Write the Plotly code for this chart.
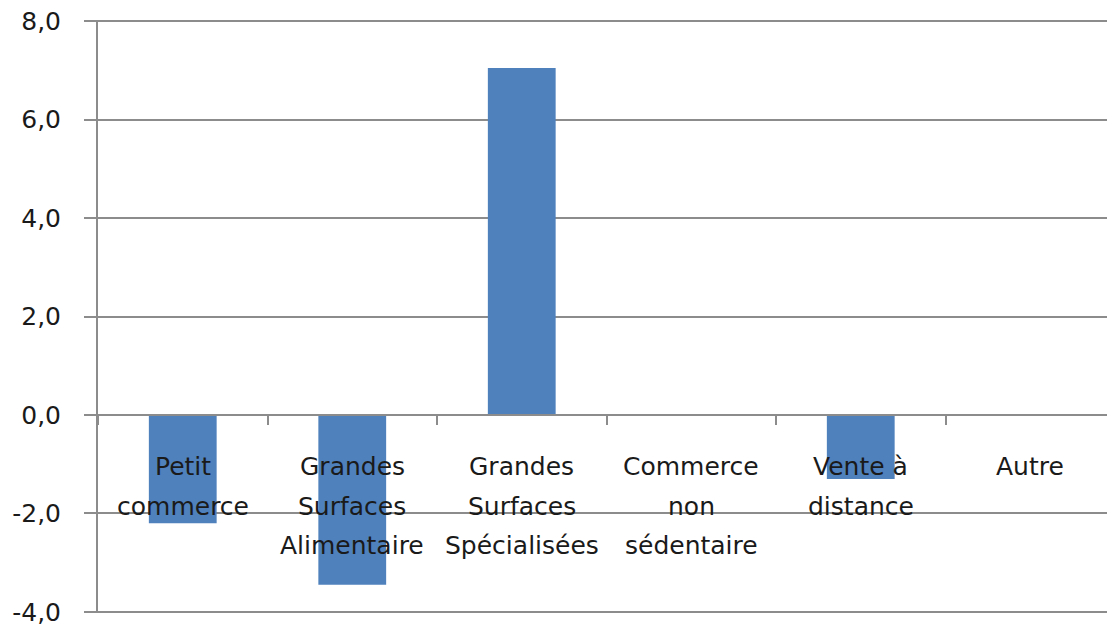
import plotly.graph_objects as go

categories = ["Petit commerce", "Grandes Surfaces Alimentaire", "Grandes Surfaces Spécialisées",
              "Commerce non sédentaire", "Vente à distance", "Autre"]
label_lines = [["Petit", "commerce"], ["Grandes", "Surfaces", "Alimentaire"],
               ["Grandes", "Surfaces", "Spécialisées"], ["Commerce", "non", "sédentaire"],
               ["Vente à", "distance"], ["Autre"]]
values = [-2.2, -3.45, 7.05, 0.0, -1.3, 0.0]
y_ticks = [-4, -2, 0, 2, 4, 6, 8]
y_tick_text = ["-4,0", "-2,0", "0,0", "2,0", "4,0", "6,0", "8,0"]

# tiny padding so plotly keeps the edge gridlines at -4 and 8
y_lo, y_hi = -4.025, 8.025
FONT = "DejaVu Sans"
GRID = "#8c8c8c"

fig = go.Figure()
fig.add_trace(go.Bar(x=categories, y=values, marker=dict(color="#4F81BD", line=dict(width=0)),
                     width=0.4, hoverinfo="skip"))

annotations = []
for cat, lines in zip(categories, label_lines):
    for i, line in enumerate(lines):
        annotations.append(dict(x=cat, xref="x", y=0, yref="y", text=line, showarrow=False,
                                yanchor="middle", xanchor="center", yshift=-52 - 39.5 * i,
                                font=dict(family=FONT, size=25, color="#1a1a1a")))

# page body has an 8px default margin; the figure is sized to compensate
fig.update_layout(
    width=1107, height=621,
    margin=dict(l=90, r=0, t=12, b=16),
    paper_bgcolor="white", plot_bgcolor="white",
    showlegend=False,
    bargap=0.6,
    annotations=annotations,
    xaxis=dict(
        type="category", anchor="free", position=(0 - y_lo) / (y_hi - y_lo),
        showline=True, linecolor=GRID, linewidth=1.5, automargin=False,
        ticks="outside", tickson="boundaries", ticklen=9, tickcolor=GRID, tickwidth=1.5,
        showticklabels=False, showgrid=False, zeroline=False,
    ),
    yaxis=dict(
        range=[y_lo, y_hi], tickvals=y_ticks, ticktext=y_tick_text,
        showline=True, linecolor=GRID, linewidth=2, automargin=False,
        ticks="outside", ticklen=12, tickcolor=GRID, tickwidth=1.5,
        ticklabelstandoff=18, ticklabeloverflow="allow",
        showgrid=True, gridcolor=GRID, gridwidth=1.5, zeroline=False,
        tickfont=dict(family=FONT, size=25, color="#1a1a1a"),
    ),
)

fig.write_html("out.html")
